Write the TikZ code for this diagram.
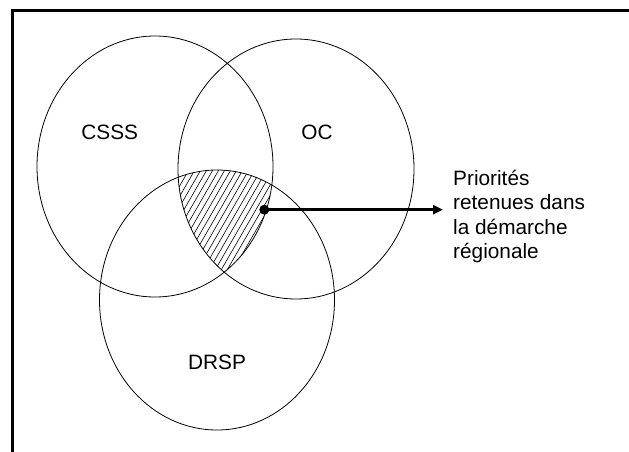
\documentclass[tikz,border=0pt]{standalone}
\usepackage{fontspec}
\setmainfont{Liberation Sans}
\usetikzlibrary{arrows.meta}
\newcommand{\labelsize}{\fontsize{20.8pt}{24.3pt}\selectfont}
\tikzset{
  setline/.style={draw=black, line width=0.8pt},
  setlabel/.style={inner sep=0pt, anchor=base, font=\labelsize},
  hatch/.style={draw=black, line width=0.6pt},
  frameline/.style={draw=black, line width=3pt},
  pointer/.style={draw=black, line width=3pt, -{Triangle[length=10pt,width=9pt]}},
}
\begin{document}
\begin{tikzpicture}[x=1pt, y=-1pt]
\useasboundingbox (0,0) rectangle (629,452);

% frame
\draw[frameline] (629,10.5) -- (12,10.5) -- (12,452);

% hatched area shared by the three sets
\begin{scope}
  \clip (155,166.5) ellipse [x radius=118pt, y radius=130.5pt];
  \clip (296,169) ellipse [x radius=118pt, y radius=130pt];
  \clip (217,300) ellipse [x radius=117.5pt, y radius=130pt];
  \foreach \x in {60,66,...,320}
    \draw[hatch] (\x,310) -- ++(86.6pt,150pt);
\end{scope}

% the three sets
\draw[setline] (155,166.5) ellipse [x radius=118pt, y radius=130.5pt];
\draw[setline] (296,169) ellipse [x radius=118pt, y radius=130pt];
\draw[setline] (217,300) ellipse [x radius=117.5pt, y radius=130pt];

\node[setlabel] (csss) at (109.7,139.3) {CSSS};
\node[setlabel] (oc) at (317,139.3) {OC};
\node[setlabel] (drsp) at (217,369.3) {DRSP};

% pointer to the caption
\coordinate (p) at (264.3,209.7);
\coordinate (tip) at (443,209.7);
\draw[pointer] (p) -- (tip);
\fill (p) circle [radius=5pt];

\node[inner sep=0pt, anchor=north west, align=left, font=\labelsize]
  (caption) at (453,170)
  {Priorités\\retenues dans\\la démarche\\régionale};
\end{tikzpicture}
\end{document}
